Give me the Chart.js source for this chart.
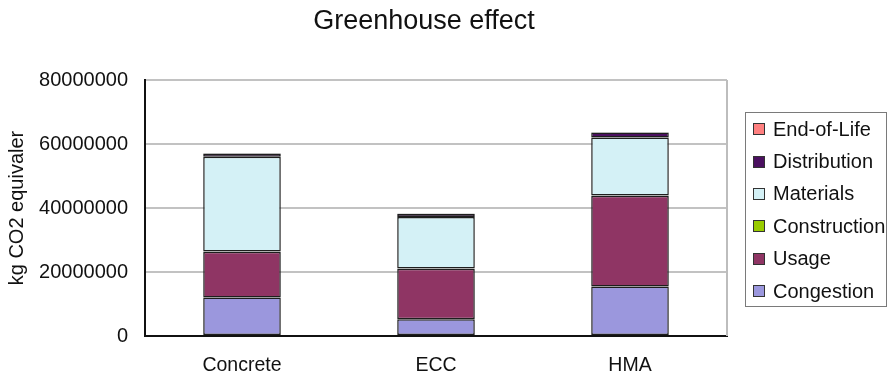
<!DOCTYPE html>
<html>
<head>
<meta charset="utf-8">
<title>Greenhouse effect</title>
<script src="https://cdn.jsdelivr.net/npm/chart.js@4/dist/chart.umd.min.js"></script>
<style>
  html, body { margin: 0; padding: 0; background: #fff; }
  #wrap { position: relative; width: 889px; height: 377px; }
  #legend {
    position: absolute; left: 745px; top: 112px; width: 142px; height: 195px;
    border: 1px solid #7a7a7a; box-sizing: border-box;
    font-family: "Liberation Sans", Arial, sans-serif; font-size: 20px; color: #111;
    padding-top: 0px;
  }
  #legend .item { display: flex; align-items: center; height: 32.4px; white-space: nowrap; }
  #legend .sw { width: 10px; height: 10px; border: 1px solid #333; margin: 0 8px 0 7px; flex: none; }
</style>
</head>
<body>
<div id="wrap">
  <canvas id="chart" width="889" height="377"></canvas>
  <div id="legend"></div>
</div>
<script>
// Pavement types compared
const categories = ['Concrete', 'ECC', 'HMA'];

// Greenhouse emissions per life-cycle phase (kg CO2 equivalent)
const congestion   = [12000000,  5200000, 15500000];
const usage        = [14300000, 15800000, 28300000];
const construction = [  100000,   100000,   100000];
const materials    = [29600000, 16100000, 18100000];
const distribution = [ 1000000,  1000000,  1600000];
const endOfLife    = [  100000,   100000,   100000];

// Y axis ticks
const yTicks = [0, 20000000, 40000000, 60000000, 80000000];

const seriesNames  = ['Congestion', 'Usage', 'Construction', 'Materials', 'Distribution', 'End-of-Life'];
const seriesValues = [congestion, usage, construction, materials, distribution, endOfLife];
const seriesColors = ['#9b97dd', '#8f3564', '#99cc00', '#d4f1f6', '#4b1060', '#ff8080'];

const FONT = '"Liberation Sans", Arial, sans-serif';

const datasets = seriesNames.map((name, i) => ({
  label: name,
  data: seriesValues[i],
  backgroundColor: seriesColors[i],
  borderColor: '#1e1e1e',
  borderWidth: 1.5,
  borderSkipped: false,
  categoryPercentage: 1.0,
  barPercentage: 0.4
}));

// Thin grey frame on the right side of the plot area
const plotFrame = {
  id: 'plotFrame',
  beforeDatasetsDraw(chart) {
    const { ctx, chartArea: a } = chart;
    ctx.save();
    ctx.strokeStyle = '#bdbdbd';
    ctx.lineWidth = 2;
    ctx.beginPath();
    ctx.moveTo(a.right, a.top);
    ctx.lineTo(a.right, a.bottom);
    ctx.stroke();
    ctx.restore();
  }
};

const chart = new Chart(document.getElementById('chart'), {
  type: 'bar',
  data: { labels: categories, datasets },
  plugins: [plotFrame],
  options: {
    responsive: false,
    animation: false,
    devicePixelRatio: 1,
    layout: { padding: { left: 0, right: 41, top: 0, bottom: 0 } },
    plugins: {
      legend: { display: false },
      tooltip: { enabled: false },
      title: {
        display: true,
        text: 'Greenhouse effect',
        color: '#111',
        font: { family: FONT, size: 27, weight: 'normal' },
        padding: { top: 5, bottom: 42.6 }
      }
    },
    scales: {
      x: {
        stacked: true,
        grid: { display: false, drawTicks: false },
        border: { display: true, color: '#111', width: 2 },
        ticks: { color: '#111', font: { family: FONT, size: 19.5 }, padding: 18, maxRotation: 0 },
        afterFit(scale) { scale.height = 41; }
      },
      y: {
        stacked: true,
        min: 0,
        max: 80000000,
        afterBuildTicks(scale) { scale.ticks = yTicks.map(v => ({ value: v })); },
        grid: { color: '#c2c2c2', lineWidth: 2, drawTicks: false },
        border: { display: true, color: '#111', width: 2 },
        ticks: {
          color: '#111',
          font: { family: FONT, size: 20 },
          padding: 17,
          callback: v => String(v)
        },
        title: {
          display: true,
          text: 'kg CO2 equivaler',
          color: '#111',
          font: { family: FONT, size: 20 },
          padding: { top: 5, bottom: 0 }
        },
        afterFit(scale) { scale.width = 145; }
      },
      // empty right-hand gutter that holds the legend box
      gutter: {
        type: 'linear',
        position: 'right',
        min: 0,
        max: 1,
        grid: { display: false, drawTicks: false },
        border: { display: false },
        ticks: { display: false },
        afterFit(scale) { scale.width = 121; }
      }
    }
  }
});

// Legend built from the chart's own label generator, newest series on top
const legendEl = document.getElementById('legend');
const items = chart.options.plugins.legend.labels.generateLabels(chart).slice().reverse();
items.forEach(it => {
  const row = document.createElement('div');
  row.className = 'item';
  const sw = document.createElement('span');
  sw.className = 'sw';
  sw.style.background = it.fillStyle;
  const tx = document.createElement('span');
  tx.textContent = it.text;
  row.appendChild(sw);
  row.appendChild(tx);
  legendEl.appendChild(row);
});
</script>
</body>
</html>
